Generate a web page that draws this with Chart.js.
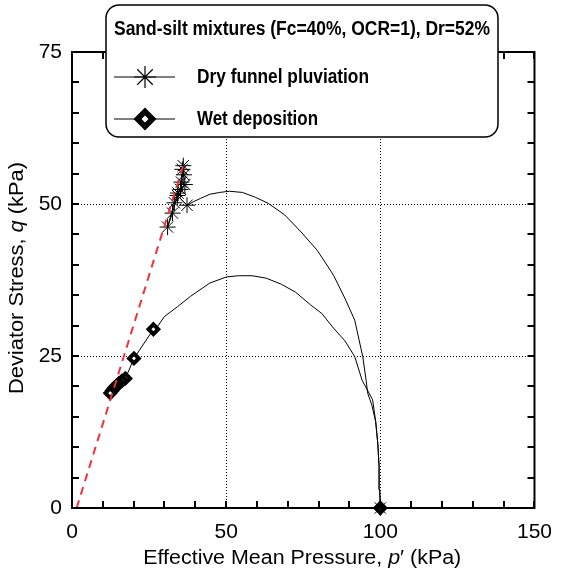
<!DOCTYPE html>
<html>
<head>
<meta charset="utf-8">
<script src="https://cdn.jsdelivr.net/npm/chart.js"></script>
<style>
  html, body { margin: 0; padding: 0; background: #fff; }
  #wrap { width: 564px; height: 572px; position: relative; }
</style>
</head>
<body>
<div id="wrap"><canvas id="chart"></canvas></div>
<script>
// Values: p' (x) and q (y), both in kPa
const xTicks = [0, 50, 100, 150];
const yTicks = [0, 25, 50, 75];

// dry funnel pluviation: stress path, then the star markers
const dryPathP = [100, 99.8, 99.6, 99.2, 98.5, 97.2, 95.9, 95.4, 94.3, 91.7, 88.5, 84.8, 81.6, 79.5, 74.3, 69.0, 63.7, 59.5, 55.3, 51.0, 47.9, 44.7, 41.6, 39.5, 37.3,
                  34.2, 32.6, 31.0, 33.2, 34.4, 35.2, 36.6, 35.5, 36.3, 35.8, 36.1];
const dryPathQ = [0, 3.0, 6.8, 10.5, 14.2, 17.0, 18.9, 21.0, 24.9, 30.9, 34.5, 38.3, 40.8, 42.4, 45.4, 48.2, 50.1, 51.1, 51.9, 52.1, 51.9, 51.6, 50.9, 50.4, 49.8,
                  51.4, 48.5, 46.2, 50.2, 51.8, 52.4, 53.2, 53.6, 54.8, 55.7, 56.3];
const dryMarkP = [100, 37.3, 34.2, 32.6, 31.0, 33.2, 34.4, 35.2, 36.6, 35.5, 36.3, 35.8, 36.1];
const dryMarkQ = [0, 49.8, 51.4, 48.5, 46.2, 50.2, 51.8, 52.4, 53.2, 53.6, 54.8, 55.7, 56.3];

// wet deposition
const wetPathP = [100, 99.8, 99.6, 99.2, 98.5, 97.5, 94.1, 91.7, 88.5, 84.8, 81.0, 77.4, 72.5, 67.9, 63.0, 58.4, 54.0, 50.1, 44.7, 38.4, 34.2, 30.0, 27.8,
                  26.4, 20.1, 17.3, 16.2, 15.2, 14.4, 13.6, 13.0, 12.4];
const wetPathQ = [0, 3.0, 6.8, 10.5, 14.2, 17.8, 21.0, 24.9, 27.5, 29.6, 32.0, 33.4, 35.5, 36.8, 37.8, 38.2, 38.2, 38.0, 37.0, 34.8, 33.1, 31.5, 29.9,
                  29.4, 24.6, 21.3, 20.9, 20.5, 20.1, 19.7, 19.3, 18.9];
const wetMarkP = [100, 26.4, 20.1, 17.3, 16.2, 15.2, 14.4, 13.6, 13.0, 12.4];
const wetMarkQ = [0, 29.4, 24.6, 21.3, 20.9, 20.5, 20.1, 19.7, 19.3, 18.9];

// red dashed line through the origin region
const lineP = [1.5, 36.5];
const lineQ = [0, 57];

const legendTitle = 'Sand-silt mixtures (Fc=40%, OCR=1), Dr=52%';
const seriesNames = ['Dry funnel pluviation', 'Wet deposition'];
const xTitle = [['Effective Mean Pressure, ', 'normal'], ['p', 'italic'], ['\u2032 (kPa)', 'normal']];
const yTitle = [['Deviator Stress, ', 'normal'], ['q', 'italic'], [' (kPa)', 'normal']];

const FONT = "'Liberation Sans', Arial, sans-serif";

function toPoints(ps, qs) {
  return ps.map((p, i) => ({ x: p, y: qs[i] }));
}

// text made of pieces with different styles, centred on (0,0), stretched to a width
function drawRich(ctx, parts, size, width) {
  let total = 0;
  const widths = parts.map(([t, style]) => {
    ctx.font = `${style} ${size}px ${FONT}`;
    const w = ctx.measureText(t).width;
    total += w;
    return w;
  });
  ctx.save();
  ctx.scale(width / total, 1);
  let x = -total / 2;
  parts.forEach(([t, style], i) => {
    ctx.font = `${style} ${size}px ${FONT}`;
    ctx.fillText(t, x, 0);
    x += widths[i];
  });
  ctx.restore();
}

// bold narrow look: squeeze the text into a given width
function fillFit(ctx, text, x, y, width, align) {
  const w = ctx.measureText(text).width;
  ctx.save();
  ctx.translate(x, y);
  ctx.scale(width / w, 1);
  ctx.textAlign = align;
  ctx.fillText(text, 0, 0);
  ctx.restore();
}

function drawStar(ctx, x, y, r) {
  ctx.beginPath();
  for (let k = 0; k < 4; k++) {
    const a = k * Math.PI / 4;
    ctx.moveTo(x - r * Math.cos(a), y - r * Math.sin(a));
    ctx.lineTo(x + r * Math.cos(a), y + r * Math.sin(a));
  }
  ctx.stroke();
}

function drawDiamond(ctx, x, y, r, fill) {
  ctx.beginPath();
  ctx.moveTo(x, y - r);
  ctx.lineTo(x + r, y);
  ctx.lineTo(x, y + r);
  ctx.lineTo(x - r, y);
  ctx.closePath();
  ctx.fillStyle = fill;
  ctx.fill();
}

const decorations = {
  id: 'decorations',
  afterDatasetsDraw(chart) {
    const ctx = chart.ctx;
    const { left, right, top, bottom } = chart.chartArea;
    const xs = chart.scales.x, ys = chart.scales.y;
    ctx.save();
    ctx.strokeStyle = '#000';
    ctx.lineWidth = 2;
    ctx.strokeRect(left, top, right - left, bottom - top);
    // inward minor ticks on all four sides
    ctx.beginPath();
    for (let v = 0; v <= 150; v += 10) {
      const px = Math.round(xs.getPixelForValue(v));
      ctx.moveTo(px, bottom); ctx.lineTo(px, bottom - 7);
      ctx.moveTo(px, top); ctx.lineTo(px, top + 7);
    }
    for (let v = 0; v <= 75; v += 5) {
      const py = Math.round(ys.getPixelForValue(v));
      ctx.moveTo(left, py); ctx.lineTo(left + 7, py);
      ctx.moveTo(right, py); ctx.lineTo(right - 7, py);
    }
    ctx.stroke();
    ctx.restore();
  },
  afterDraw(chart) {
    const ctx = chart.ctx;
    const { left, right, top, bottom } = chart.chartArea;
    ctx.save();
    ctx.fillStyle = '#000';
    ctx.textBaseline = 'middle';

    // axis titles
    ctx.save();
    ctx.translate((left + right) / 2 - 1, 558);
    drawRich(ctx, xTitle, 20, 318);
    ctx.restore();
    ctx.save();
    ctx.translate(17, (top + bottom) / 2 - 2);
    ctx.rotate(-Math.PI / 2);
    drawRich(ctx, yTitle, 20, 232);
    ctx.restore();

    // legend box
    const bx = 106, by = 5, bw = 392, bh = 132;
    ctx.beginPath();
    ctx.roundRect(bx, by, bw, bh, 13);
    ctx.fillStyle = '#fff';
    ctx.fill();
    ctx.lineWidth = 1.5;
    ctx.strokeStyle = '#000';
    ctx.stroke();

    ctx.fillStyle = '#000';
    ctx.font = `bold 20px ${FONT}`;
    fillFit(ctx, legendTitle, 302, 29, 376, 'center');
    fillFit(ctx, seriesNames[0], 197, 77, 172, 'left');
    fillFit(ctx, seriesNames[1], 197, 119, 121, 'left');

    // legend samples
    ctx.lineWidth = 1;
    ctx.beginPath();
    ctx.moveTo(114, 77); ctx.lineTo(175, 77);
    ctx.moveTo(114, 119); ctx.lineTo(175, 119);
    ctx.stroke();
    ctx.lineWidth = 1.2;
    drawStar(ctx, 145, 77, 11);
    drawDiamond(ctx, 145, 119, 11.5, '#000');
    drawDiamond(ctx, 145, 119, 3.5, '#fff');
    ctx.restore();
  }
};

const majorGrid = (vals) => (c) => {
  const v = c.tick ? c.tick.value : null;
  return vals.includes(v) ? '#000' : 'rgba(0,0,0,0)';
};

new Chart(document.getElementById('chart'), {
  type: 'scatter',
  data: {
    datasets: [
      {
        label: 'line',
        data: toPoints(lineP, lineQ),
        showLine: true,
        borderColor: '#ee3340',
        borderWidth: 2,
        borderDash: [8, 6],
        pointRadius: 0,
        order: 0
      },
      {
        label: seriesNames[0] + ' markers',
        data: toPoints(dryMarkP, dryMarkQ),
        showLine: false,
        pointStyle: 'star',
        pointRadius: 8,
        borderColor: '#000',
        borderWidth: 1,
        clip: false,
        order: 1
      },
      {
        label: seriesNames[1] + ' markers',
        data: toPoints(wetMarkP, wetMarkQ),
        showLine: false,
        pointStyle: 'rectRot',
        pointRadius: 4.8,
        backgroundColor: '#fff',
        borderColor: '#000',
        borderWidth: 4,
        clip: false,
        order: 2
      },
      {
        label: seriesNames[0],
        data: toPoints(dryPathP, dryPathQ),
        showLine: true,
        borderColor: '#000',
        borderWidth: 1,
        pointRadius: 0,
        tension: 0,
        order: 3
      },
      {
        label: seriesNames[1],
        data: toPoints(wetPathP, wetPathQ),
        showLine: true,
        borderColor: '#000',
        borderWidth: 1,
        pointRadius: 0,
        tension: 0,
        order: 4
      }
    ]
  },
  options: {
    responsive: true,
    maintainAspectRatio: false,
    animation: false,
    layout: { padding: { top: 52, right: 18, left: 0, bottom: 0 } },
    plugins: {
      legend: { display: false },
      tooltip: { enabled: false }
    },
    scales: {
      x: {
        type: 'linear',
        min: xTicks[0],
        max: xTicks[xTicks.length - 1],
        afterBuildTicks: (axis) => { axis.ticks = xTicks.map(v => ({ value: v })); },
        afterFit: (axis) => { axis.height = 64; },
        ticks: {
          color: '#000',
          font: { family: FONT, size: 21 },
          padding: 12,
          maxRotation: 0
        },
        grid: {
          color: majorGrid([50, 100]),
          lineWidth: 1,
          drawTicks: false
        },
        border: { display: false, dash: [1, 2] }
      },
      y: {
        type: 'linear',
        min: yTicks[0],
        max: yTicks[yTicks.length - 1],
        afterBuildTicks: (axis) => { axis.ticks = yTicks.map(v => ({ value: v })); },
        afterFit: (axis) => { axis.width = 72; },
        ticks: {
          color: '#000',
          font: { family: FONT, size: 21 },
          padding: 10
        },
        grid: {
          color: majorGrid([25, 50]),
          lineWidth: 1,
          drawTicks: false
        },
        border: { display: false, dash: [1, 2] }
      }
    }
  },
  plugins: [decorations]
});
</script>
</body>
</html>
